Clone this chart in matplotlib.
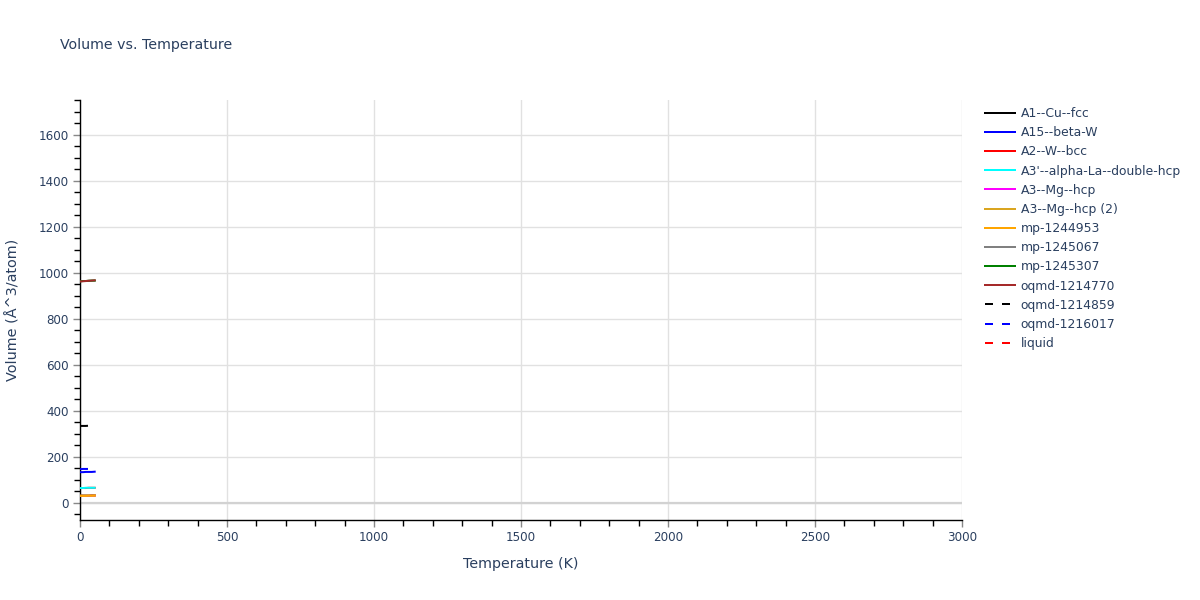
import matplotlib
matplotlib.use("Agg")
import matplotlib.pyplot as plt
from matplotlib.ticker import MultipleLocator

# ---- data ----
labels = ["A1--Cu--fcc", "A15--beta-W", "A2--W--bcc", "A3'--alpha-La--double-hcp",
          "A3--Mg--hcp", "A3--Mg--hcp (2)", "mp-1244953", "mp-1245067",
          "mp-1245307", "oqmd-1214770", "oqmd-1214859", "oqmd-1216017", "liquid"]
colors = ["black", "blue", "red", "cyan", "magenta", "goldenrod", "orange",
          "gray", "green", "brown", "black", "blue", "red"]
dashed = [False] * 10 + [True] * 3

temps_a1 = [0, 10, 20, 30, 40, 50]
vol_a1 = [32, 32, 32, 32, 33, 33]
temps_a15 = [0, 10, 20, 30, 40, 50]
vol_a15 = [134, 134, 135, 135, 135, 136]
temps_a2 = [0, 10, 20, 30, 40, 50]
vol_a2 = [65, 65, 65, 66, 66, 66]
temps_a3p = [0, 10, 20, 30, 40, 50]
vol_a3p = [65, 65, 66, 66, 66, 66]
temps_a3 = [0, 10, 20, 30, 40, 50]
vol_a3 = [31, 31, 31, 31, 32, 32]
temps_a3b = [0, 10, 20, 30, 40, 50]
vol_a3b = [32, 32, 32, 32, 32, 33]
temps_mp1 = [0, 10, 20, 30, 40, 50]
vol_mp1 = [31, 31, 31, 32, 32, 32]
temps_mp2 = [0, 10, 20, 30, 40, 50]
vol_mp2 = [964, 965, 965, 966, 966, 967]
temps_mp3 = [0, 10, 20, 30, 40, 50]
vol_mp3 = [964, 965, 965, 966, 967, 967]
temps_oq1 = [0, 10, 20, 30, 40, 50]
vol_oq1 = [963, 964, 965, 966, 967, 968]
temps_oq2 = [0, 10, 20, 30]
vol_oq2 = [335, 335, 335, 336]
temps_oq3 = [0, 10, 20, 30]
vol_oq3 = [147, 148, 148, 148]
temps_liq = []
vol_liq = []

series_T = [temps_a1, temps_a15, temps_a2, temps_a3p, temps_a3, temps_a3b, temps_mp1,
            temps_mp2, temps_mp3, temps_oq1, temps_oq2, temps_oq3, temps_liq]
series_V = [vol_a1, vol_a15, vol_a2, vol_a3p, vol_a3, vol_a3b, vol_mp1,
            vol_mp2, vol_mp3, vol_oq1, vol_oq2, vol_oq3, vol_liq]

# ---- style ----
TXT = "#2a3f5f"
GRID = "#e1e1e1"
plt.rcParams["font.family"] = ["DejaVu Sans"]

fig = plt.figure(figsize=(12, 6), dpi=100)
ax = fig.add_axes([80 / 1200, 1 - 520 / 600, (962 - 80) / 1200, (520 - 100) / 600])

lw = 1.44
for T, V, lab, c, d in zip(series_T, series_V, labels, colors, dashed):
    if d:
        ax.plot(T, V, color=c, lw=lw, dashes=(4, 4.5), label=lab, zorder=3)
    else:
        ax.plot(T, V, color=c, lw=lw, label=lab, zorder=3)

ax.set_xlim(0, 3000)
ax.set_ylim(-74, 1752)
ax.xaxis.set_major_locator(MultipleLocator(500))
ax.xaxis.set_minor_locator(MultipleLocator(100))
ax.yaxis.set_minor_locator(MultipleLocator(50))
ax.set_yticks([0, 200, 400, 600, 800, 1000, 1200, 1400, 1600])

ax.grid(True, which="major", color=GRID, lw=1.0, zorder=0)
ax.axhline(0, color="#d2d2d2", lw=1.6, zorder=1)
ax.set_axisbelow(True)

for s in ["top", "right"]:
    ax.spines[s].set_visible(False)
for s in ["left", "bottom"]:
    ax.spines[s].set_color("black")
    ax.spines[s].set_linewidth(1.0)

ax.tick_params(axis="both", which="major", length=5, color="#888888", width=1,
               labelsize=8.6, labelcolor=TXT, pad=3)
ax.tick_params(axis="both", which="minor", length=4, color="black", width=1)

ax.set_xlabel("Temperature (K)", fontsize=10.3, color=TXT, labelpad=9)
ax.set_ylabel("Volume (Å^3/atom)", fontsize=10.4, color=TXT, labelpad=13)

fig.text(60 / 1200, 1 - 45 / 600, "Volume vs. Temperature", fontsize=10.2,
         color=TXT, va="center", ha="left")

leg = fig.legend(loc="upper left", bbox_to_anchor=(985 / 1200, 1 - 107 / 600),
                 frameon=False, fontsize=8.9, handlelength=2.45, handletextpad=0.45,
                 labelspacing=0.5, borderaxespad=0, borderpad=0)
for t in leg.get_texts():
    t.set_color(TXT)

fig.savefig("out.png", dpi=100)
